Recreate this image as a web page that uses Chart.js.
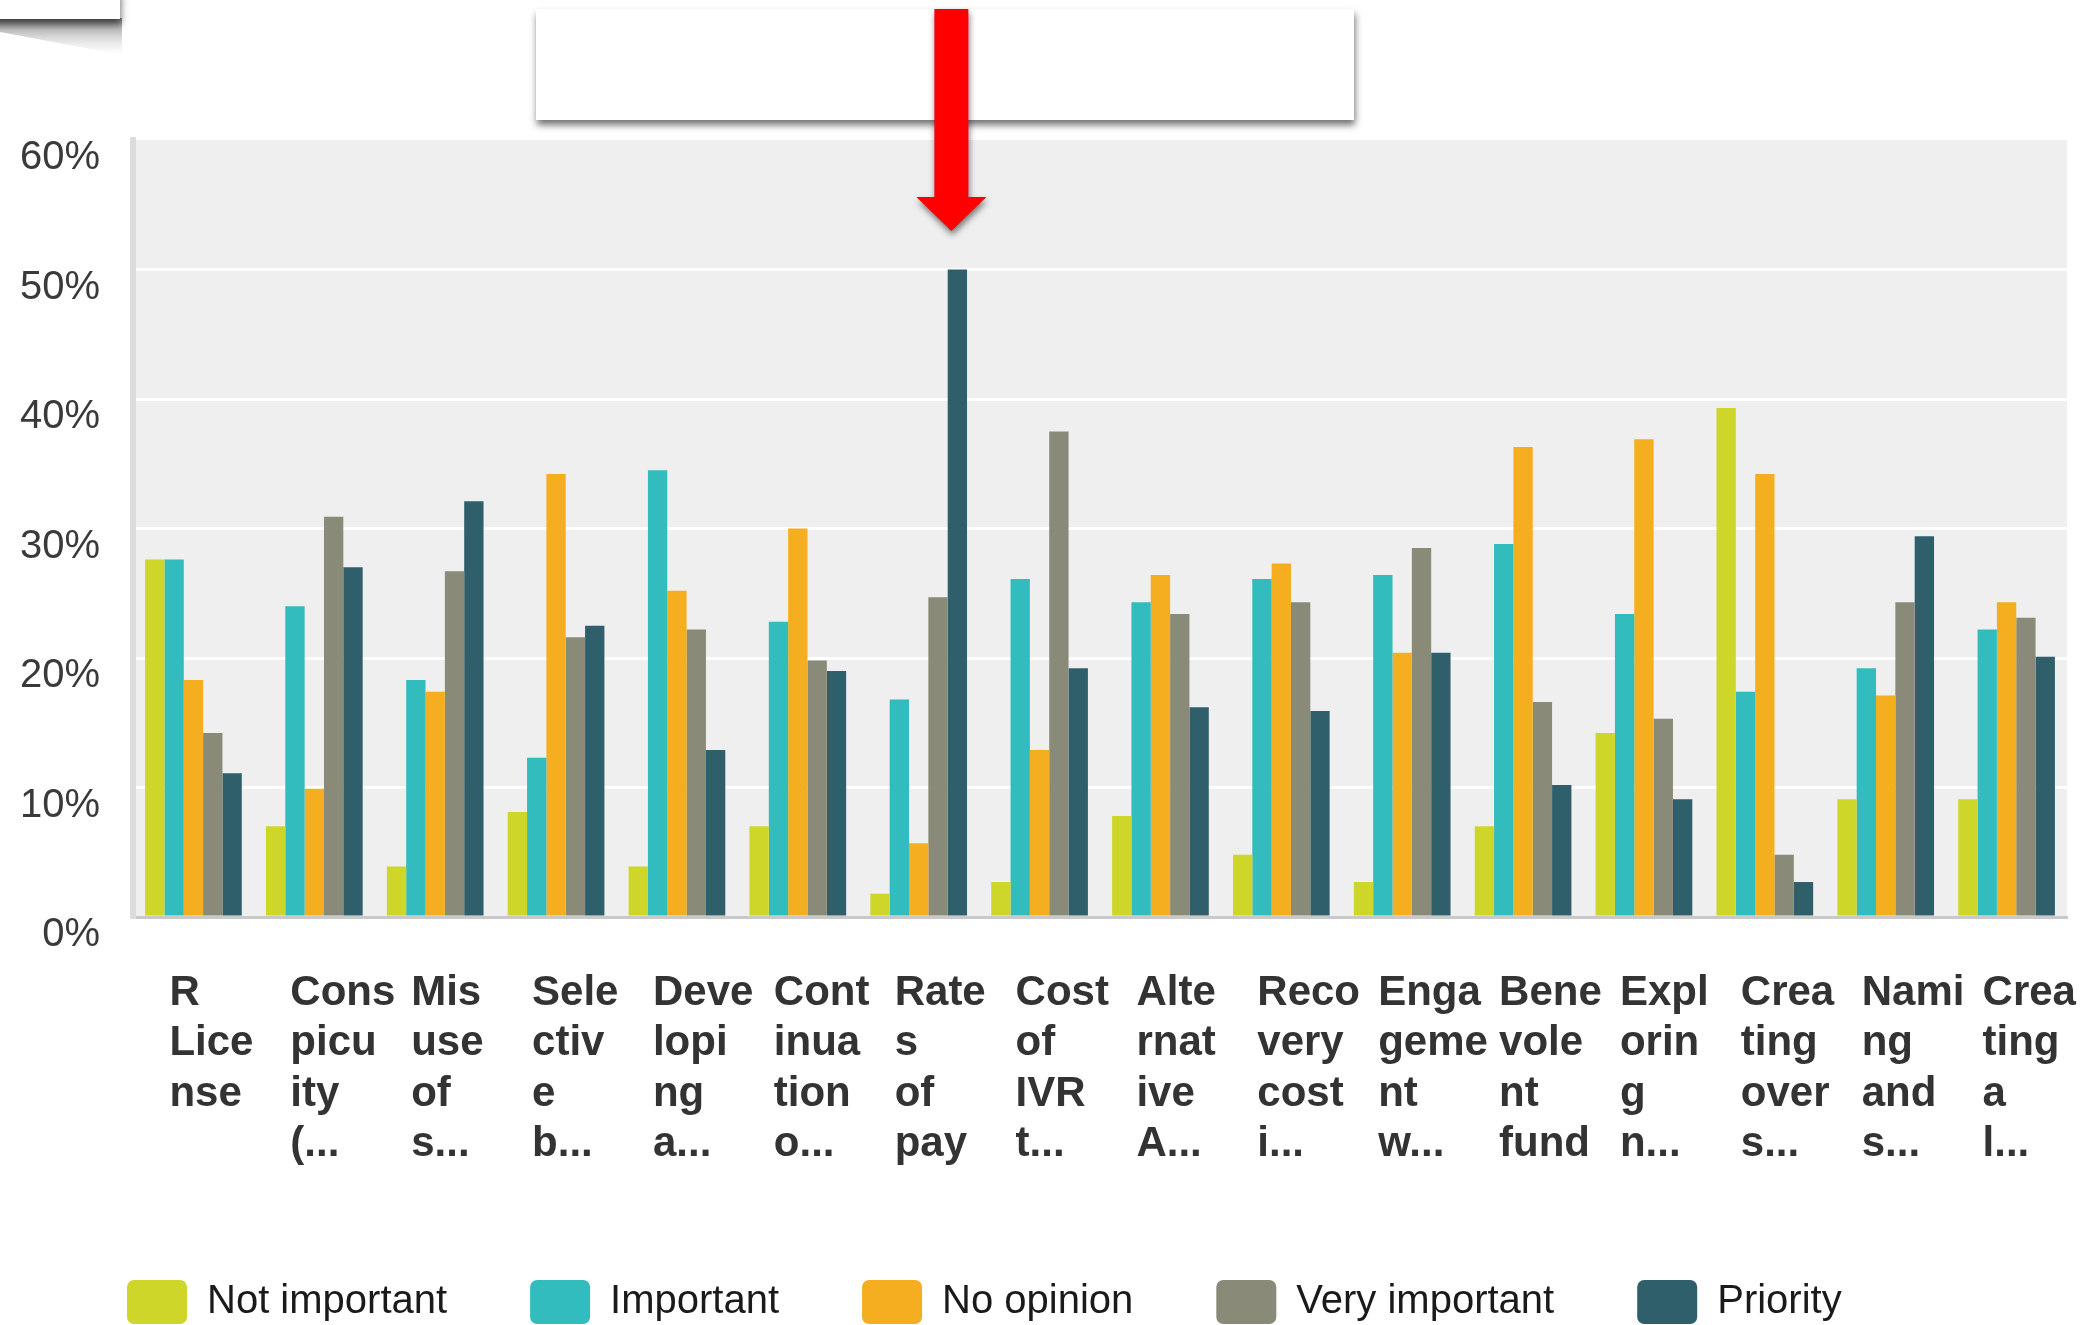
<!DOCTYPE html>
<html>
<head>
<meta charset="utf-8">
<title>Importance by topic</title>
<script src="https://cdn.jsdelivr.net/npm/chart.js@4.4.1/dist/chart.umd.min.js"></script>
<style>
    html, body { margin: 0; padding: 0; background: #fff; overflow: hidden; }
    #wrap { position: relative; width: 2093px; height: 1334px; }
</style>
</head>
<body>
<div id="wrap"><canvas id="barChart"></canvas></div>
<script>
// Category labels, already cut into lines the way the survey tool shows them
const categories = [
    ['R', 'Lice', 'nse'],
    ['Cons', 'picu', 'ity', '(...'],
    ['Mis', 'use', 'of', 's...'],
    ['Sele', 'ctiv', 'e', 'b...'],
    ['Deve', 'lopi', 'ng', 'a...'],
    ['Cont', 'inua', 'tion', 'o...'],
    ['Rate', 's', 'of', 'pay'],
    ['Cost', 'of', 'IVR', 't...'],
    ['Alte', 'rnat', 'ive', 'A...'],
    ['Reco', 'very', 'cost', 'i...'],
    ['Enga', 'geme', 'nt', 'w...'],
    ['Bene', 'vole', 'nt', 'fund'],
    ['Expl', 'orin', 'g', 'n...'],
    ['Crea', 'ting', 'over', 's...'],
    ['Nami', 'ng', 'and', 's...'],
    ['Crea', 'ting', 'a', 'l...'],
];

// Share of answers per category (%)
const notImportant  = [27.6, 7.0, 3.9, 8.1, 3.9, 7.0, 1.8, 2.7, 7.8, 4.8, 2.7, 7.0, 14.2, 39.3, 9.1, 9.1];
const important     = [27.6, 24.0, 18.3, 12.3, 34.5, 22.8, 16.8, 26.1, 24.3, 26.1, 26.4, 28.8, 23.4, 17.4, 19.2, 22.2];
const noOpinion     = [18.3, 9.9, 17.4, 34.2, 25.2, 30.0, 5.7, 12.9, 26.4, 27.3, 20.4, 36.3, 36.9, 34.2, 17.1, 24.3];
const veryImportant = [14.2, 30.9, 26.7, 21.6, 22.2, 19.8, 24.7, 37.5, 23.4, 24.3, 28.5, 16.6, 15.3, 4.8, 24.3, 23.1];
const priority      = [11.1, 27.0, 32.1, 22.5, 12.9, 19.0, 50.0, 19.2, 16.2, 15.9, 20.4, 10.2, 9.1, 2.7, 29.4, 20.1];

const seriesNames = ['Not important', 'Important', 'No opinion', 'Very important', 'Priority'];
const seriesColors = ['#cfd62a', '#33bcbe', '#f6ae21', '#898a78', '#2e5f6b'];
const yTicks = [0, 10, 20, 30, 40, 50, 60];

const FONT = "'Liberation Sans', Arial, sans-serif";

// Grey plot background plus the screenshot call-outs (box, red arrow)
const decorations = {
    id: 'decorations',
    afterLayout(chart) {
        // legend starts under the plot, not at the canvas edge
        if (chart.legend) chart.legend.left += 44;
    },
    beforeDraw(chart) {
        const { ctx, chartArea: a } = chart;
        ctx.save();
        ctx.fillStyle = '#efefef';
        ctx.fillRect(a.left, a.top, a.right - a.left, a.bottom - a.top);
        ctx.restore();
    },
    afterDraw(chart) {
        const ctx = chart.ctx;
        ctx.save();

        // page-curl shadow in the top-left corner
        const g = ctx.createLinearGradient(0, 18, 0, 55);
        g.addColorStop(0, 'rgba(90,90,90,0.75)');
        g.addColorStop(1, 'rgba(200,200,200,0)');
        ctx.fillStyle = g;
        ctx.beginPath();
        ctx.moveTo(0, 18);
        ctx.lineTo(122, 18);
        ctx.lineTo(122, 55);
        ctx.lineTo(0, 32);
        ctx.closePath();
        ctx.fill();

        // empty white call-out box
        ctx.shadowColor = 'rgba(0,0,0,0.55)';
        ctx.shadowBlur = 7;
        ctx.shadowOffsetX = 1;
        ctx.shadowOffsetY = 5;
        ctx.fillStyle = '#fff';
        ctx.fillRect(-10, -10, 130, 29);
        ctx.fillRect(536, 9, 818, 111);

        // red arrow pointing at the "Rates of pay" priority bar
        const bar = chart.getDatasetMeta(4).data[6];
        const ax = bar.x - 6;
        ctx.shadowColor = 'rgba(0,0,0,0.5)';
        ctx.shadowBlur = 6;
        ctx.shadowOffsetX = 1;
        ctx.shadowOffsetY = 4;
        ctx.fillStyle = '#ff0000';
        ctx.beginPath();
        ctx.moveTo(ax - 17, 9);
        ctx.lineTo(ax + 17, 9);
        ctx.lineTo(ax + 17, 197);
        ctx.lineTo(ax + 35, 197);
        ctx.lineTo(ax, 231);
        ctx.lineTo(ax - 35, 197);
        ctx.lineTo(ax - 17, 197);
        ctx.closePath();
        ctx.fill();
        ctx.restore();
    },
};

const seriesData = [notImportant, important, noOpinion, veryImportant, priority];
const datasets = seriesNames.map((name, i) => ({
    label: name,
    data: seriesData[i],
    backgroundColor: seriesColors[i],
    borderWidth: 0,
    categoryPercentage: 0.8,
    barPercentage: 1.0,
}));

const ctx = document.getElementById('barChart').getContext('2d');
const barChart = new Chart(ctx, {
    type: 'bar',
    data: { labels: categories, datasets: datasets },
    plugins: [decorations],
    options: {
        responsive: true,
        maintainAspectRatio: false,
        devicePixelRatio: 1,
        animation: false,
        layout: { padding: { left: 0, right: 26, top: 140, bottom: 0 } },
        plugins: {
            tooltip: { enabled: false },
            legend: {
                position: 'bottom',
                align: 'start',
                labels: {
                    boxWidth: 60,
                    boxHeight: 44,
                    useBorderRadius: true,
                    borderRadius: 7,
                    padding: 83,
                    color: '#1a1a1a',
                    font: { family: FONT, size: 40 },
                },
            },
        },
        scales: {
            x: {
                grid: { display: false },
                border: { display: true, color: '#c9c9c9', width: 3 },
                ticks: {
                    autoSkip: false,
                    maxRotation: 0,
                    minRotation: 0,
                    align: 'start',
                    labelOffset: -24,
                    padding: 43,
                    color: '#333',
                    font: { family: FONT, size: 42, weight: 'bold', lineHeight: 1.2 },
                },
                afterFit(scale) {
                    scale.height = 280;
                    scale.paddingLeft = 0;
                    scale.paddingRight = 0;
                },
            },
            y: {
                min: 0,
                max: 60,
                grid: {
                    color: (c) => (c.tick && (c.tick.value === 0 || c.tick.value === 60)) ? 'rgba(0,0,0,0)' : '#ffffff',
                    lineWidth: 3,
                    drawTicks: false,
                },
                border: { display: true, color: '#dcdcdc', width: 6 },
                afterBuildTicks(scale) {
                    scale.ticks = yTicks.map(v => ({ value: v }));
                },
                afterFit(scale) {
                    scale.width = 133;
                },
                ticks: {
                    padding: 33,
                    labelOffset: 18,
                    color: '#3a3a3a',
                    font: { family: FONT, size: 40 },
                    callback: (v) => v + '%',
                },
            },
        },
    },
});
</script>
</body>
</html>
